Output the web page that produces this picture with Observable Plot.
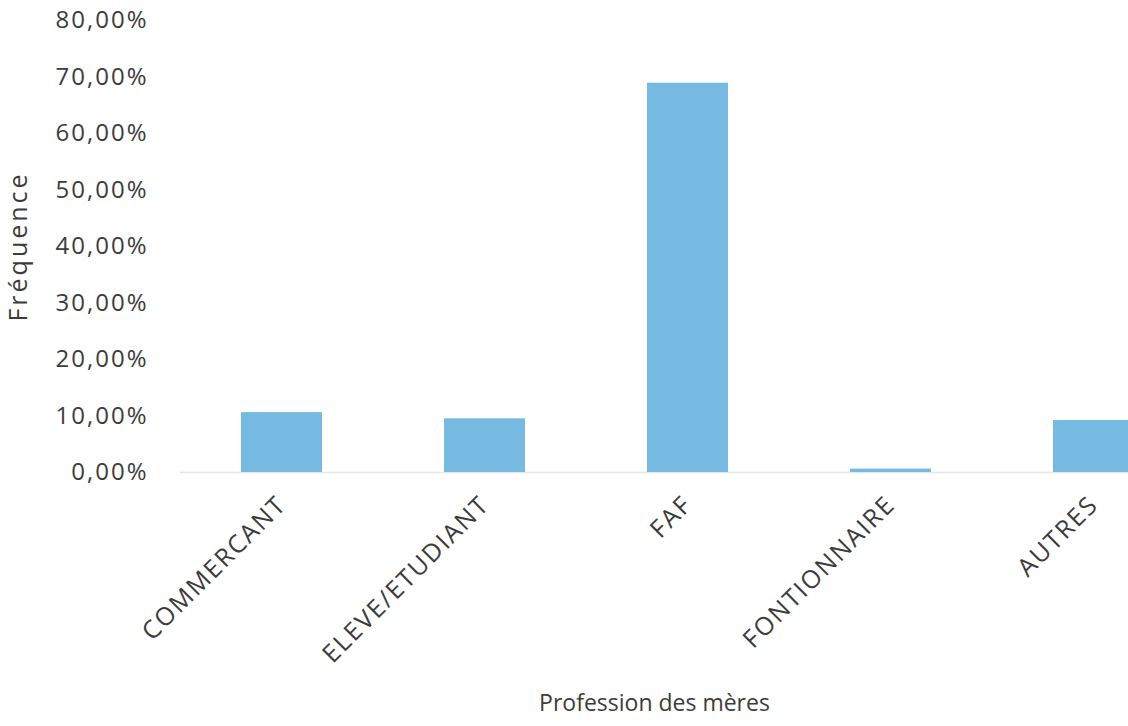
<!DOCTYPE html>
<html>
<head>
<meta charset="utf-8">
<script src="https://cdn.jsdelivr.net/npm/d3@7"></script>
<script src="https://cdn.jsdelivr.net/npm/@observablehq/plot@0.6"></script>
<style>
  html, body { margin: 0; padding: 0; background: #ffffff; }
  #chart svg { display: block; }
</style>
</head>
<body>
<div id="chart"></div>
<script>
const categories = ["COMMERCANT", "ELEVE/ETUDIANT", "FAF", "FONTIONNAIRE", "AUTRES"];
const frequencies = [0.106, 0.095, 0.689, 0.006, 0.092];
const yTicks = [0, 0.1, 0.2, 0.3, 0.4, 0.5, 0.6, 0.7, 0.8];
const xTitle = "Profession des mères";
const yTitle = "Fréquence";

const data = categories.map((c, i) => ({ category: c, value: frequencies[i] }));
const fmt = d => (d * 100).toFixed(2).replace(".", ",") + "%";

const chart = Plot.plot({
  width: 1128,
  height: 726,
  marginLeft: 180,
  marginRight: 0,
  marginTop: 20,
  marginBottom: 254,
  style: { fontFamily: "'Open Sans', sans-serif", color: "#3c3c3c", background: "#ffffff" },
  x: { domain: categories, range: [180, 1195], paddingInner: 0.6, paddingOuter: 0.3 },
  y: { domain: [0, 0.8] },
  marks: [
    Plot.ruleY([0], { stroke: "#e6e6e6", strokeWidth: 1.5 }),
    Plot.barY(data, { x: "category", y: "value", fill: "#76b9e1" }),
    Plot.axisY({
      ticks: yTicks, tickFormat: fmt, tickSize: 0, tickPadding: 32,
      fontSize: 24, label: null
    }),
    Plot.axisX({
      tickSize: 0, tickPadding: 28, tickRotate: -45, fontSize: 25,
      label: null
    }),
    Plot.text([yTitle], {
      frameAnchor: "left", dx: -171, rotate: -90, fontSize: 25, textAnchor: "middle",
      lineAnchor: "top", fill: "#3c3c3c"
    }),
    Plot.text([xTitle], {
      frameAnchor: "bottom", dy: 238, fontSize: 23, textAnchor: "middle",
      lineAnchor: "bottom", fill: "#3c3c3c"
    })
  ]
});
chart.querySelectorAll("g[aria-label='y-axis tick label'] text").forEach(t => t.setAttribute("letter-spacing", "2"));
chart.querySelectorAll("g[aria-label='x-axis tick label'] text").forEach(t => t.setAttribute("letter-spacing", "1.8"));
chart.querySelectorAll("g[aria-label='text'] text").forEach(t => {
  if (t.textContent === yTitle) t.setAttribute("letter-spacing", "3");
});
document.getElementById("chart").appendChild(chart);
</script>
</body>
</html>
